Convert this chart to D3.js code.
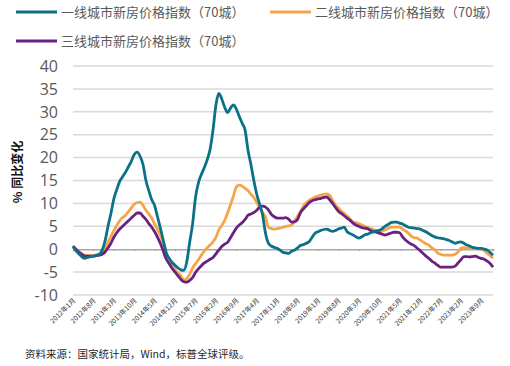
<!DOCTYPE html>
<html>
<head>
<meta charset="utf-8">
<script src="https://cdn.jsdelivr.net/npm/d3@7"></script>
<style>
  body { margin: 0; background: #fff; }
  text { font-family: "Noto Sans CJK SC", "Noto Sans", sans-serif; }
</style>
</head>
<body>
<svg id="chart" width="510" height="366"></svg>
<script>
// monthly, 2012-01 .. 2024-01
var startYear = 2012, startMonth = 1;

var tier1 = [0.6,-0.3,-1.0,-1.6,-2.0,-1.8,-1.6,-1.5,-1.3,-1.1,-0.2,1.8,5.0,7.8,11,13,14.8,15.8,16.8,18,19.2,20.7,21.2,20.3,18.5,15,12.8,10.8,9.5,7,4.5,1.8,-0.8,-2,-2.9,-3.5,-4.1,-4.5,-4.6,-2.8,1.5,5.5,11.3,14.5,16.3,17.8,19.5,21.8,26,31.5,34,32.8,31,29.8,30.8,31.5,30.6,29,27.5,26,21.6,18.5,15,12,9.8,7.5,3.5,1.3,0.7,0.4,0.2,-0.2,-0.7,-0.8,-0.9,-0.4,-0.2,0.3,0.8,1,1.3,1.7,2.6,3.5,3.8,4.1,4.3,4.4,4.1,3.9,4.1,4.4,4.6,4.8,3.8,3.4,3.1,2.7,2.4,2.7,3.1,3.3,3.6,3.8,4,4.1,4.5,5,5.4,5.8,5.9,5.9,5.7,5.5,5.1,4.8,4.7,4.6,4.5,4.4,4.1,3.8,3.4,3,2.7,2.5,2.4,2.3,2.1,1.9,1.6,1.3,1.5,1.6,1.3,0.9,0.7,0.4,0.3,0.2,0.2,0,-0.2,-0.7,-1.3];

var tier2 = [0.5,0,-0.5,-1,-1.3,-1.4,-1.4,-1.4,-1.3,-1.3,-0.8,0,1.5,2.8,4,5.2,6.2,6.9,7.4,8.2,9,9.8,10.2,10.3,9.6,8.5,7.7,6.8,5.5,4.3,3,1.2,-1,-2.6,-3.5,-4.5,-5.2,-5.8,-6.8,-6.4,-5.5,-4.1,-3.2,-2.3,-1.3,-0.4,0.3,0.9,1.6,2.6,4.2,5.2,6.3,7.9,9.7,11.6,13.6,14,13.8,13.3,12.8,12,11.3,10.2,9.2,8,7,4.8,4.5,4.4,4.5,4.6,4.8,5,5.1,5.3,6.2,7.2,8.2,9.4,10.2,10.7,11.1,11.4,11.6,11.8,12,12.1,11.8,10.6,9.6,9,8.3,7.8,7.2,6.6,5.9,5.8,5.6,5.3,5,4.7,4.5,4.3,4,3.7,4,4.2,4.5,4.8,4.8,4.8,4.8,4.4,4,3.5,2.8,2.5,2.4,2,1.6,1.2,0.9,0.3,-0.1,-0.8,-1.1,-1.3,-1.3,-1.3,-1.3,-1.1,-0.6,0.2,0.4,0.2,0.2,0.2,0.2,0.2,0,-0.3,-0.9,-1.4,-2];

var tier3 = [0.7,0,-0.6,-1.1,-1.5,-1.5,-1.5,-1.5,-1.4,-1.3,-1.1,-0.6,0.3,1.3,2.6,3.6,4.4,5,5.6,6.2,6.8,7.4,7.9,7.9,7.2,6.5,5.6,4.8,3.8,2.6,1.2,-0.5,-2.2,-3.2,-4.2,-5,-5.8,-6.6,-7.1,-7.2,-6.8,-6.2,-5.1,-4.3,-3.6,-3,-2.6,-2.2,-1.8,-1,-0.2,0.6,1.1,1.5,2.5,3.6,4.6,5.3,5.8,6.5,7.4,7.7,8,8.5,9.2,9.4,9.2,8.6,7.6,7.1,6.8,6.8,6.8,6.9,6.5,5.9,6,6.5,8,8.8,9.5,10.2,10.6,10.8,11,11.1,11.3,11.4,10.8,10,9.1,8.3,7.8,7.3,6.8,6.3,5.7,5.3,5,4.7,4.6,4.5,4.1,3.9,3.7,3.5,3.3,3.1,3.3,3.5,3.7,3.7,3.6,2.7,2,1.5,1.1,0.8,0.2,-0.3,-0.9,-1.5,-2,-2.6,-3,-3.5,-3.9,-3.9,-3.9,-3.9,-3.9,-3.7,-3,-2.3,-1.6,-1.6,-1.7,-1.6,-1.5,-1.8,-2,-2.2,-2.6,-3.1,-3.9];

var seriesNames = ["一线城市新房价格指数（70城）", "二线城市新房价格指数（70城）", "三线城市新房价格指数（70城）"];
var seriesColors = ["#0a7187", "#f5a547", "#6b2180"];
var yTicks = [-10, -5, 0, 5, 10, 15, 20, 25, 30, 35, 40];
var tickEvery = 7; // x labels every 7 months

var months = tier1.map(function(d, i) {
  var m = startMonth - 1 + i;
  return { y: startYear + Math.floor(m / 12), m: (m % 12) + 1 };
});
var monthLabel = function(d) { return d.y + "年" + d.m + "月"; };

var svg = d3.select("#chart");

var x = d3.scaleLinear().domain([0, months.length - 1]).range([73, 493]);
var y = d3.scaleLinear().domain([-10, 40]).range([295, 66]);

// grid
svg.append("g").selectAll("line")
  .data(yTicks.filter(function(t) { return t !== 0; }))
  .enter().append("line")
  .attr("x1", 73).attr("x2", 493)
  .attr("y1", function(d) { return y(d); })
  .attr("y2", function(d) { return y(d); })
  .attr("stroke", "#d9d9d9")
  .attr("stroke-width", 1.5);

// zero axis with ticks
var tickIdx = d3.range(0, months.length, tickEvery);
var xAxis = d3.axisBottom(x)
  .tickValues(tickIdx)
  .tickSize(2)
  .tickFormat("");
var gx = svg.append("g").attr("transform", "translate(0," + y(0) + ")").call(xAxis);
gx.select(".domain").attr("stroke", "#a6a6a6").attr("stroke-width", 1.5);
gx.selectAll(".tick line").attr("stroke", "#a6a6a6");

// y tick labels
svg.append("g").selectAll("text")
  .data(yTicks)
  .enter().append("text")
  .attr("x", 58)
  .attr("y", function(d) { return y(d); })
  .attr("dy", "0.36em")
  .attr("text-anchor", "end")
  .attr("font-size", 16)
  .attr("fill", "#595959")
  .style("font-family", "'Open Sans', 'Noto Sans', sans-serif")
  .text(function(d) { return d; });

// y title
svg.append("text")
  .attr("transform", "translate(22,172) rotate(-90)")
  .attr("text-anchor", "middle")
  .attr("font-size", 12)
  .attr("font-weight", "bold")
  .attr("fill", "#111")
  .text("% 同比变化");

// x tick labels
svg.append("g").selectAll("text")
  .data(tickIdx)
  .enter().append("text")
  .attr("transform", function(d) { return "translate(" + (x(d) + 3) + ",301) rotate(-45)"; })
  .attr("text-anchor", "end")
  .attr("font-size", 6.8)
  .attr("fill", "#333")
  .text(function(d) { return monthLabel(months[d]); });

// lines
var line = d3.line()
  .x(function(d, i) { return x(i); })
  .y(function(d) { return y(d); })
  .curve(d3.curveMonotoneX);

[tier2, tier3, tier1].forEach(function(s) {
  var k = s === tier1 ? 0 : s === tier2 ? 1 : 2;
  svg.append("path")
    .datum(s)
    .attr("fill", "none")
    .attr("stroke", seriesColors[k])
    .attr("stroke-width", 2.8)
    .attr("stroke-linejoin", "round")
    .attr("d", line);
});

// legend
var legendPos = [[16, 12], [270, 12], [16, 41]];
var lg = svg.append("g").selectAll("g")
  .data(seriesNames)
  .enter().append("g")
  .attr("transform", function(d, i) { return "translate(" + legendPos[i][0] + "," + legendPos[i][1] + ")"; });
lg.append("line")
  .attr("x1", 0).attr("x2", 41)
  .attr("stroke", function(d, i) { return seriesColors[i]; })
  .attr("stroke-width", 3);
lg.append("text")
  .attr("x", 45)
  .attr("dy", "0.36em")
  .attr("font-size", 13)
  .attr("fill", "#595959")
  .text(function(d) { return d; });

// source
svg.append("text")
  .attr("x", 25).attr("y", 358)
  .attr("font-size", 10.5)
  .attr("fill", "#262626")
  .text("资料来源：国家统计局，Wind，标普全球评级。");
</script>
</body>
</html>
